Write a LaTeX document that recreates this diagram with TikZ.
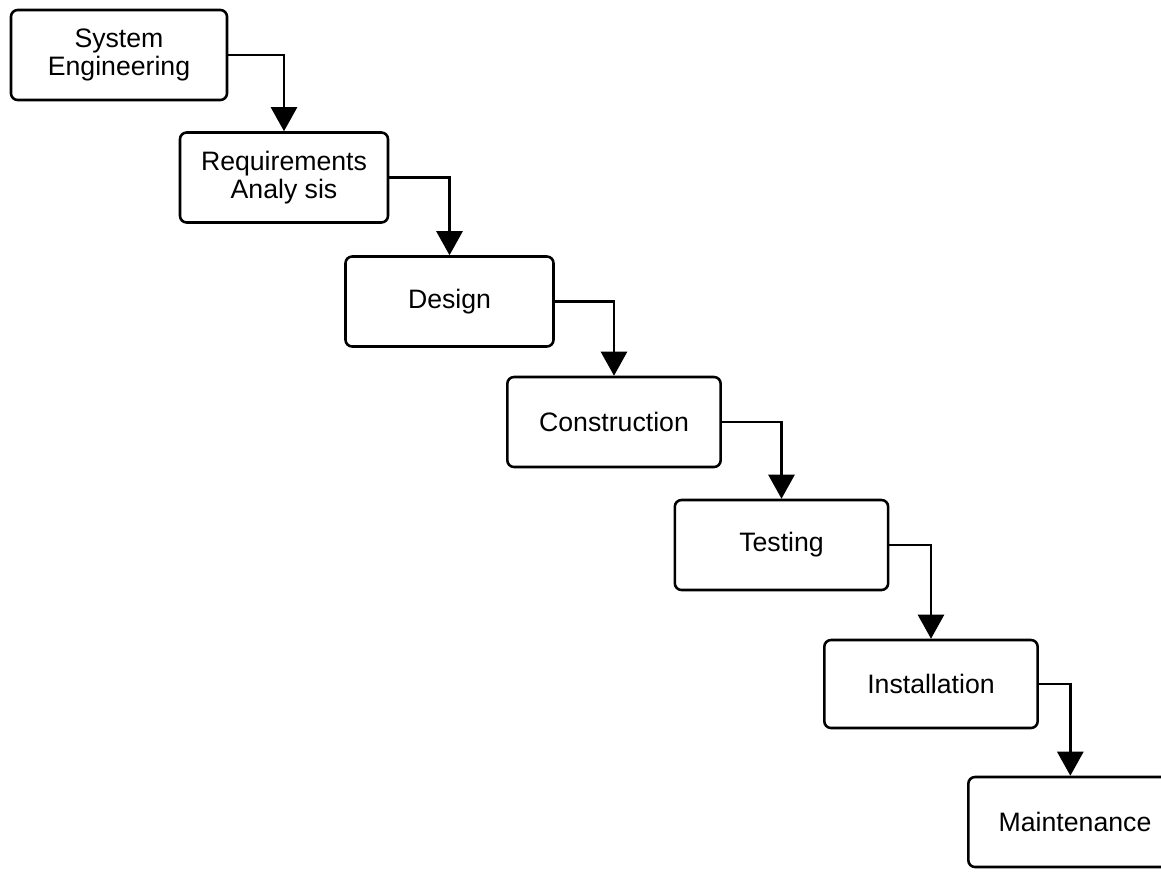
\documentclass[tikz,border=0pt]{standalone}
\usepackage{fontspec}
\setmainfont{Liberation Sans}
\usepackage{tikz}
\usetikzlibrary{arrows.meta,positioning}

\tikzset{
  phase/.style={draw, line width=1.9pt, rounded corners=5pt, inner sep=0pt,
    minimum width=160pt, minimum height=67.5pt, align=center,
    font=\fontsize{20}{21}\selectfont},
  flow/.style={line width=1.9pt, -{Triangle[length=18pt,width=19.5pt]}}
}

\begin{document}
\begin{tikzpicture}[x=0.75pt,y=-0.75pt]
  \useasboundingbox (0,0) rectangle (1161,872);

  \node[phase, minimum width=162pt] (se) at (119,55) {System\\Engineering};
  \node[phase, minimum width=156pt] (ra) at (284,177.5) {Requirements\\Analy sis};
  \node[phase, minimum width=156pt] (des) at (449.5,301.5) {Design};
  \node[phase] (con) at (614,422) {Construction};
  \node[phase] (tst) at (781.5,545) {Testing};
  \node[phase, minimum height=66pt] (ins) at (931,684) {Installation};
  \node[phase] (mnt) at (1075,822) {Maintenance};

  \draw[flow] (se.east) -| (ra.north);
  \draw[flow] (ra.east) -| (des.north);
  \draw[flow] (des.east) -| (con.north);
  \draw[flow] (con.east) -| (tst.north);
  \draw[flow] (tst.east) -| (ins.north);
  \draw[flow] (ins.east) -| ([xshift=-3.5pt]mnt.north);
\end{tikzpicture}
\end{document}
